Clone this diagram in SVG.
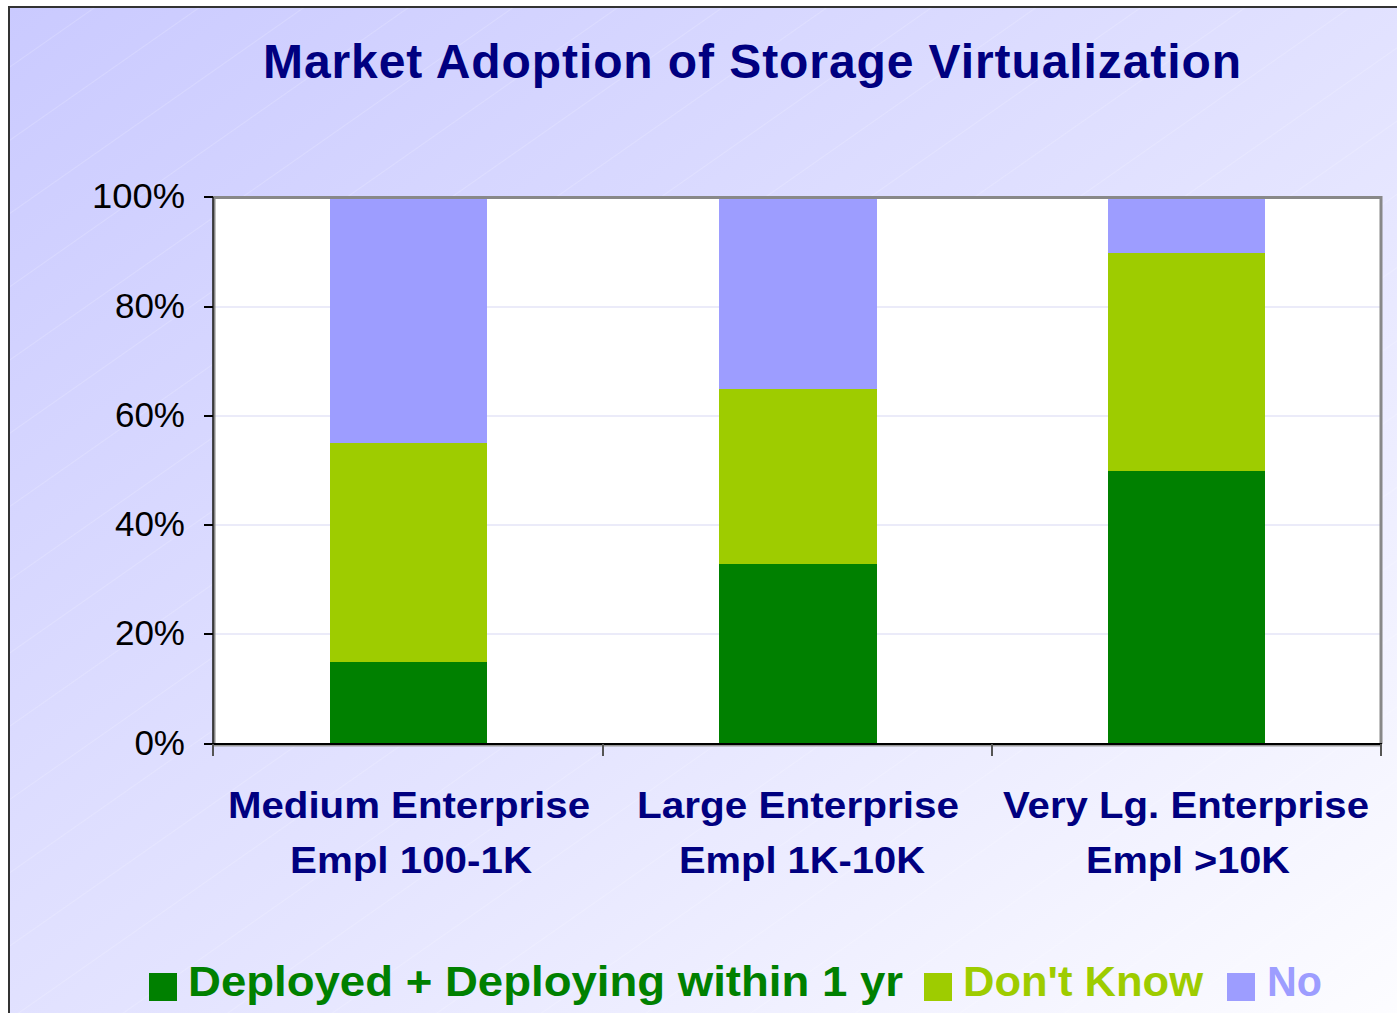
<svg xmlns="http://www.w3.org/2000/svg" width="1397" height="1013" viewBox="0 0 1397 1013">
  <defs>
    <linearGradient id="bg" x1="0" y1="0" x2="1" y2="1">
      <stop offset="0" stop-color="#CACAFF"/>
      <stop offset="0.55" stop-color="#E4E4FF"/>
      <stop offset="1" stop-color="#FDFDFF"/>
    </linearGradient>
    <pattern id="hatch" width="60" height="60" patternUnits="userSpaceOnUse" patternTransform="rotate(-35)">
      <line x1="0" y1="0" x2="60" y2="0" stroke="#FFFFFF" stroke-width="1" stroke-opacity="0.35"/>
    </pattern>
    <style>
      .ylab { font-family: "Liberation Sans", Arial, sans-serif; font-size: 35px; fill: #000000; text-anchor: end; }
      .cat { font-family: "Liberation Sans", Arial, sans-serif; font-weight: bold; font-size: 36px; fill: #000080; text-anchor: middle; }
      .leg { font-family: "Liberation Sans", Arial, sans-serif; font-weight: bold; font-size: 42px; }
      .grid { stroke: #D8D8F4; stroke-width: 1.2; }
      .tick { stroke: #000000; stroke-width: 2; }
      .xtick { stroke: #555555; stroke-width: 2; }
      .dep { fill: #008000; }
      .dk { fill: #9ECC00; }
      .no { fill: #9D9DFF; }
    </style>
  </defs>

  <!-- chart background -->
  <rect x="0" y="0" width="1397" height="1013" fill="#FFFFFF"/>
  <rect x="9" y="7" width="1400" height="1020" fill="url(#bg)"/>
  <rect x="9" y="7" width="1400" height="1020" fill="url(#hatch)"/>
  <path d="M9,1013 V7 H1397" fill="none" stroke="#333333" stroke-width="2"/>

  <!-- title -->
  <text id="title" x="752" y="78" font-family="'Liberation Sans', Arial, sans-serif" font-weight="bold" font-size="48" fill="#000080" text-anchor="middle" textLength="978" lengthAdjust="spacing">Market Adoption of Storage Virtualization</text>

  <!-- plot area -->
  <g id="plot">
    <rect x="213" y="197" width="1168" height="547" fill="#FFFFFF"/>
    <line class="grid" x1="213" y1="307" x2="1381" y2="307"/>
    <line class="grid" x1="213" y1="416" x2="1381" y2="416"/>
    <line class="grid" x1="213" y1="525" x2="1381" y2="525"/>
    <line class="grid" x1="213" y1="634" x2="1381" y2="634"/>
  </g>

  <!-- bars -->
  <g id="bar-medium">
    <rect class="no" x="330" y="197" width="157" height="246"/>
    <rect class="dk" x="330" y="443" width="157" height="219"/>
    <rect class="dep" x="330" y="662" width="157" height="82"/>
  </g>
  <g id="bar-large">
    <rect class="no" x="719" y="197" width="158" height="192"/>
    <rect class="dk" x="719" y="389" width="158" height="175"/>
    <rect class="dep" x="719" y="564" width="158" height="180"/>
  </g>
  <g id="bar-verylarge">
    <rect class="no" x="1108" y="197" width="157" height="56"/>
    <rect class="dk" x="1108" y="253" width="157" height="218"/>
    <rect class="dep" x="1108" y="471" width="157" height="273"/>
  </g>

  <!-- axes and frame -->
  <g id="axes">
    <line x1="213" y1="197.5" x2="1382" y2="197.5" stroke="#888888" stroke-width="3"/>
    <line x1="1381" y1="196" x2="1381" y2="744" stroke="#888888" stroke-width="3"/>
    <line x1="214" y1="197" x2="214" y2="745" stroke="#888888" stroke-width="3"/>
    <line x1="213" y1="197" x2="213" y2="745" stroke="#222222" stroke-width="1.5"/>
    <line x1="212" y1="745" x2="1382" y2="745" stroke="#999999" stroke-width="3"/>
    <line x1="212" y1="744" x2="1382" y2="744" stroke="#000000" stroke-width="2"/>
    <line class="tick" x1="204" y1="197" x2="213" y2="197"/>
    <line class="tick" x1="204" y1="307" x2="213" y2="307"/>
    <line class="tick" x1="204" y1="416" x2="213" y2="416"/>
    <line class="tick" x1="204" y1="525" x2="213" y2="525"/>
    <line class="tick" x1="204" y1="634" x2="213" y2="634"/>
    <line class="tick" x1="204" y1="744" x2="213" y2="744"/>
    <line class="xtick" x1="213" y1="744" x2="213" y2="756"/>
    <line class="xtick" x1="603" y1="744" x2="603" y2="756"/>
    <line class="xtick" x1="992" y1="744" x2="992" y2="756"/>
    <line class="xtick" x1="1381" y1="744" x2="1381" y2="756"/>
  </g>

  <!-- value axis labels -->
  <g id="y-labels">
    <text class="ylab" x="185" y="208" textLength="93" lengthAdjust="spacingAndGlyphs">100%</text>
    <text class="ylab" x="185" y="318">80%</text>
    <text class="ylab" x="185" y="427">60%</text>
    <text class="ylab" x="185" y="536">40%</text>
    <text class="ylab" x="185" y="645">20%</text>
    <text class="ylab" x="185" y="755">0%</text>
  </g>

  <!-- category labels -->
  <g id="x-labels">
    <text class="cat" x="409" y="818" textLength="362" lengthAdjust="spacingAndGlyphs">Medium Enterprise</text>
    <text class="cat" x="411" y="873" textLength="242" lengthAdjust="spacingAndGlyphs">Empl 100-1K</text>
    <text class="cat" x="798" y="818" textLength="322" lengthAdjust="spacingAndGlyphs">Large Enterprise</text>
    <text class="cat" x="802" y="873" textLength="246" lengthAdjust="spacingAndGlyphs">Empl 1K-10K</text>
    <text class="cat" x="1186" y="818" textLength="366" lengthAdjust="spacingAndGlyphs">Very Lg. Enterprise</text>
    <text class="cat" x="1188" y="873" textLength="204" lengthAdjust="spacingAndGlyphs">Empl &gt;10K</text>
  </g>

  <!-- legend -->
  <g id="legend">
    <rect class="dep" x="149" y="973" width="28" height="28"/>
    <text class="leg" x="188" y="996" fill="#008000" textLength="715" lengthAdjust="spacingAndGlyphs">Deployed + Deploying within 1 yr</text>
    <rect class="dk" x="924" y="973" width="28" height="28"/>
    <text class="leg" x="963" y="996" fill="#9ECC00" textLength="240" lengthAdjust="spacingAndGlyphs">Don't Know</text>
    <rect class="no" x="1227" y="973" width="28" height="28"/>
    <text class="leg" x="1267" y="996" fill="#9D9DFF" textLength="55" lengthAdjust="spacingAndGlyphs">No</text>
  </g>
</svg>
